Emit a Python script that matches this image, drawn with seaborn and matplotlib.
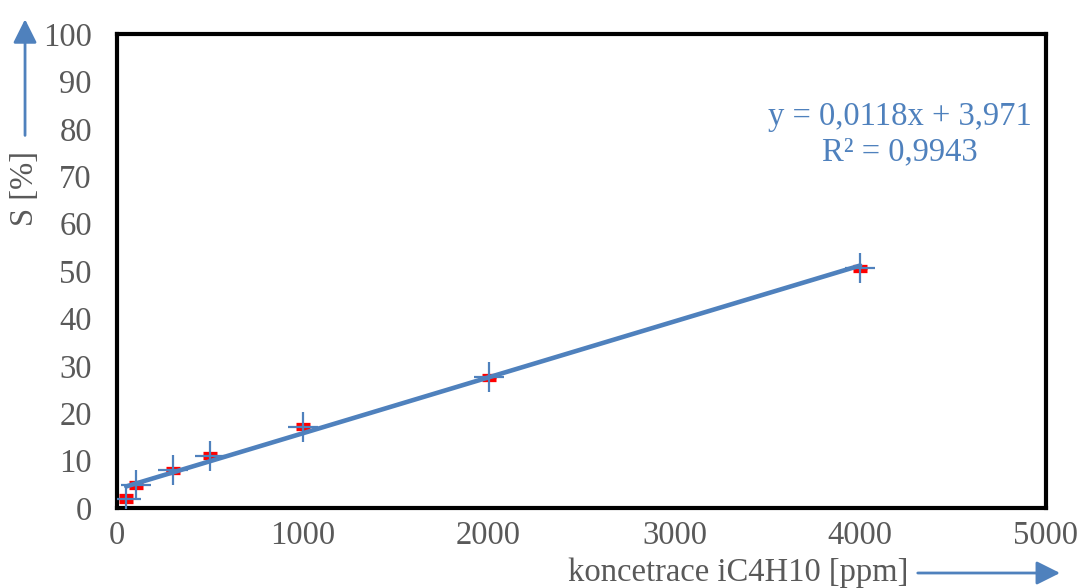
import numpy as np
import pandas as pd
import matplotlib
matplotlib.use("Agg")
import matplotlib.pyplot as plt
import seaborn as sns

# Measured sensitivity vs. iC4H10 concentration
conc_ppm = [50, 100, 300, 500, 1000, 2000, 4000]
sens_pct = [2.0, 4.9, 8.0, 11.0, 17.2, 27.6, 50.6]
sens_err = [0.6, 0.4, 0.3, 0.3, 0.3, 0.3, 0.3]

# Linear trend (stated coefficients)
slope = 0.0118
intercept = 3.971
r_squared = 0.9943

x_ticks = [0, 1000, 2000, 3000, 4000, 5000]
y_ticks = [0, 10, 20, 30, 40, 50, 60, 70, 80, 90, 100]

sns.set_theme(style="white")
plt.rcParams["font.family"] = ["Liberation Serif", "DejaVu Serif"]

BLUE = "#4F81BD"
GRAY = "#595959"
FS = 23.5

df = pd.DataFrame({"conc": conc_ppm, "sens": sens_pct, "err": sens_err})

fig = plt.figure(figsize=(10.79, 5.88), dpi=100)
ax = fig.add_axes([0.1084, 0.136, 0.861, 0.806])

# red error markers
ax.errorbar(df["conc"], df["sens"], yerr=df["err"], fmt="none",
            ecolor="#FF0000", elinewidth=4, capsize=4.8, capthick=3.8, zorder=2)

# blue cross markers
sns.scatterplot(data=df, x="conc", y="sens", marker="+", s=480,
                color=BLUE, linewidth=1.6, ax=ax, zorder=3, legend=False)

# trend line across the measured range
trend = pd.DataFrame({"conc": [min(conc_ppm), max(conc_ppm)]})
trend["fit"] = slope * trend["conc"] + intercept
sns.lineplot(data=trend, x="conc", y="fit", color=BLUE, linewidth=3.3,
             ax=ax, zorder=4)

ax.set_xlim(0, 5000)
ax.set_ylim(0, 100)
ax.set_xticks(x_ticks)
ax.set_yticks(y_ticks)
ax.set_xlabel("")
ax.set_ylabel("")
ax.tick_params(axis="both", length=0, labelsize=FS, colors=GRAY)
ax.tick_params(axis="x", pad=9)
ax.tick_params(axis="y", pad=18)
for sp in ax.spines.values():
    sp.set_visible(True)
    sp.set_color("black")
    sp.set_linewidth(3)

eq_text = f"y = {slope:.4f}x + {intercept:.3f}".replace(".", ",")
r2_text = f"R² = {r_squared:.4f}".replace(".", ",")
fig.text(0.834, 0.801, eq_text, ha="center", va="center", fontsize=FS, color=BLUE)
fig.text(0.834, 0.741, r2_text, ha="center", va="center", fontsize=FS, color=BLUE)

# axis titles with arrows
fig.text(0.0232, 0.68, "S [%]", rotation=90, ha="center", va="center",
         fontsize=FS, color=GRAY)
fig.text(0.684, 0.026, "koncetrace iC4H10 [ppm]", ha="center", va="center",
         fontsize=FS, color=GRAY)
arrow = dict(arrowstyle="-|>,head_length=0.8,head_width=0.4", color=BLUE,
             lw=2, mutation_scale=18)
fig.add_artist(matplotlib.patches.FancyArrowPatch(
    (0.0232, 0.765), (0.0232, 0.972), transform=fig.transFigure, **arrow))
fig.add_artist(matplotlib.patches.FancyArrowPatch(
    (0.848, 0.0255), (0.985, 0.0255), transform=fig.transFigure, **arrow))

fig.savefig("out.png", dpi=100, facecolor="white")
